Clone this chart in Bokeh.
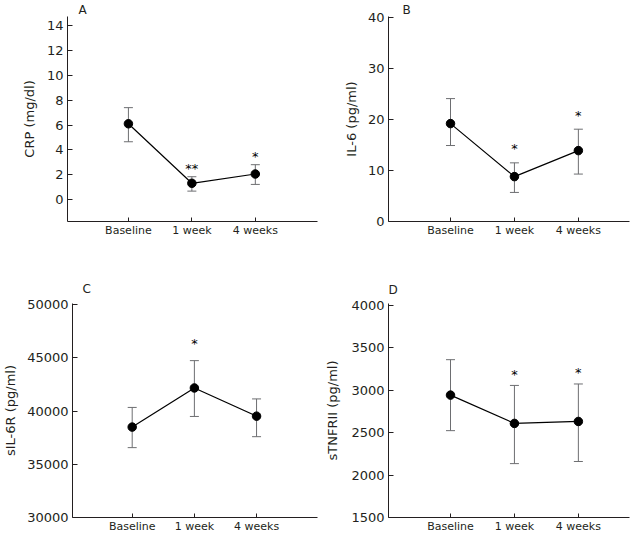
from bokeh.plotting import figure
from bokeh.models import Range1d, FixedTicker, Whisker, ColumnDataSource, TeeHead
from bokeh.layouts import column, row
from bokeh.embed import file_html
from bokeh.resources import INLINE
from bokeh.core.properties import value

# ---------------- data ----------------
categories = ["Baseline", "1 week", "4 weeks"]

crp_mean = [6.1, 1.3, 2.05]
crp_upper = [7.4, 1.83, 2.8]
crp_lower = [4.65, 0.67, 1.21]
crp_stars = ["", "**", "*"]
crp_ticks = [0, 2, 4, 6, 8, 10, 12, 14]

il6_mean = [19.2, 8.8, 13.9]
il6_upper = [24.1, 11.5, 18.1]
il6_lower = [14.9, 5.7, 9.3]
il6_stars = ["", "*", "*"]
il6_ticks = [0, 10, 20, 30, 40]

sil6r_mean = [38500, 42180, 39530]
sil6r_upper = [40350, 44750, 41150]
sil6r_lower = [36570, 39500, 37600]
sil6r_stars = ["", "*", ""]
sil6r_ticks = [30000, 35000, 40000, 45000, 50000]

stnfr_mean = [2940, 2607, 2630]
stnfr_upper = [3357, 3054, 3071]
stnfr_lower = [2522, 2134, 2159]
stnfr_stars = ["", "*", "*"]
stnfr_ticks = [1500, 2000, 2500, 3000, 3500, 4000]

FONT = "DejaVu Sans"
INK = "#231f20"
GREY = "#6d6e71"


def make_panel(letter, ylabel, mean, lower, upper, stars, yticks, yr, xr,
               width, height, borders, title_offset, title_standoff, star_offset,
               label_standoff):
    x = list(range(1, len(categories) + 1))
    src = ColumnDataSource(dict(x=x, mean=mean, lower=lower, upper=upper, stars=stars))
    bl, br, bt, bb = borders
    p = figure(width=width, height=height, x_range=Range1d(*xr), y_range=Range1d(*yr),
               output_backend="svg", toolbar_location=None, title=letter,
               min_border_left=bl, min_border_right=br, min_border_top=bt,
               min_border_bottom=bb)
    p.title.align = "left"
    p.title.offset = title_offset
    p.title.standoff = title_standoff
    p.title.text_font = FONT
    p.title.text_font_size = "12px"
    p.title.text_font_style = "normal"
    p.title.text_line_height = 0.9
    p.title.text_color = INK
    p.xgrid.visible = False
    p.ygrid.visible = False
    p.outline_line_color = None
    p.background_fill_color = "white"
    p.border_fill_color = "white"

    w = Whisker(base="x", upper="upper", lower="lower", source=src,
                line_color=GREY, line_width=1,
                upper_head=TeeHead(size=9, line_color=GREY, line_width=1),
                lower_head=TeeHead(size=9, line_color=GREY, line_width=1))
    p.add_layout(w)
    p.line("x", "mean", source=src, line_color="black", line_width=1.2)
    p.scatter("x", "mean", source=src, size=8.5, fill_color="black", line_color="black")
    p.text("x", "upper", text="stars", source=src, text_align="center",
           text_baseline="alphabetic", y_offset=star_offset,
           text_font=value(FONT), text_font_size="13px", text_color="black")

    # axes
    p.xaxis.ticker = FixedTicker(ticks=x)
    p.xaxis.major_label_overrides = {i: c for i, c in zip(x, categories)}
    p.yaxis.ticker = FixedTicker(ticks=yticks)
    p.yaxis.axis_label = ylabel
    for ax in (p.xaxis[0], p.yaxis[0]):
        ax.axis_line_color = INK
        ax.axis_line_width = 1
        ax.major_tick_line_color = INK
        ax.major_tick_in = 5
        ax.major_tick_out = 0
        ax.minor_tick_line_color = None
        ax.major_label_text_font = FONT
        ax.major_label_text_color = INK
    p.xaxis.major_label_text_font_size = "11px"
    p.xaxis.major_label_standoff = 2
    p.xaxis.major_tick_in = 4
    p.yaxis.major_label_text_font_size = "13px"
    p.yaxis.major_label_standoff = 4
    p.yaxis.axis_label_text_font = FONT
    p.yaxis.axis_label_text_font_size = "13px"
    p.yaxis.axis_label_text_font_style = "normal"
    p.yaxis.axis_label_text_color = INK
    p.yaxis.axis_label_standoff = label_standoff
    return p


pa = make_panel("A", "CRP (mg/dl)", crp_mean, crp_lower, crp_upper, crp_stars,
                crp_ticks, (-1.78, 14.75), (0.04, 3.98), 320, 265,
                (67, 3, 13, 44), 11, 0, -8, 7)
pb = make_panel("B", "IL-6 (pg/ml)", il6_mean, il6_lower, il6_upper, il6_stars,
                il6_ticks, (0, 40.2), (0.03, 3.80), 312, 265,
                (68, 3, 16, 44), 14, 0, -14, 6)
pc = make_panel("C", "sIL-6R (pg/ml)", sil6r_mean, sil6r_lower, sil6r_upper, sil6r_stars,
                sil6r_ticks, (30000, 50122), (0.04, 3.98), 320, 270,
                (67, 3, 38, 16), 10, 16, -17, 6)
pd = make_panel("D", "sTNFRII (pg/ml)", stnfr_mean, stnfr_lower, stnfr_upper, stnfr_stars,
                stnfr_ticks, (1500, 4018), (0.03, 3.80), 312, 270,
                (68, 3, 33, 16), 0, 14, -11, 8)

layout = column(row(pa, pb), row(pc, pd))
open("out.html", "w").write(file_html(layout, INLINE))
